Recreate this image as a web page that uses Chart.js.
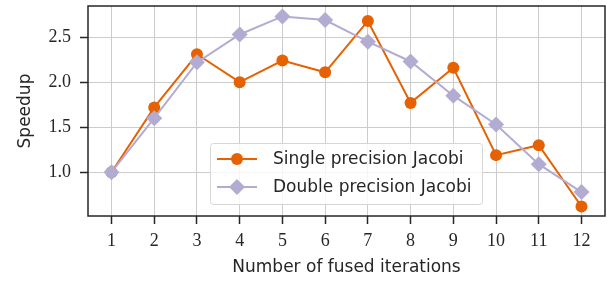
<!DOCTYPE html>
<html>
<head>
<meta charset="utf-8">
<script src="https://cdn.jsdelivr.net/npm/chart.js@4"></script>
<style>
  html, body { margin: 0; padding: 0; background: #fff; }
  #wrap { width: 607px; height: 282px; }
</style>
</head>
<body>
<div id="wrap"><canvas id="speedupChart" width="607" height="282"></canvas></div>
<script>
// fused iteration counts and measured speedups
const iterations = [1, 2, 3, 4, 5, 6, 7, 8, 9, 10, 11, 12];
const singleSpeedup = [1.00, 1.72, 2.31, 2.00, 2.24, 2.11, 2.68, 1.77, 2.16, 1.19, 1.30, 0.62];
const doubleSpeedup = [1.00, 1.60, 2.22, 2.53, 2.73, 2.69, 2.45, 2.23, 1.85, 1.53, 1.09, 0.78];
const yTickValues = [1.0, 1.5, 2.0, 2.5];

const orange = '#e66101';
const purple = '#b2abd2';
const frameColor = '#262626';
const gridColor = '#cccccc';
const serif = "'Liberation Serif', 'DejaVu Serif', serif";
const sans = "'DejaVu Sans', sans-serif";

function toPoints(values) {
    return iterations.map((x, i) => ({ x: x, y: values[i] }));
}

// box round the plot
const framePlugin = {
    id: 'frame',
    afterDraw(chart) {
        const a = chart.chartArea;
        const ctx = chart.ctx;
        ctx.save();
        ctx.strokeStyle = frameColor;
        ctx.lineWidth = 1.5;
        ctx.strokeRect(a.left, a.top, a.right - a.left, a.bottom - a.top);
        ctx.restore();
    }
};

// legend drawn inside the plot, lower middle
const insideLegend = {
    id: 'insideLegend',
    afterDatasetsDraw(chart) {
        const ctx = chart.ctx;
        const bx = 210, by = 143, bw = 272, bh = 61;
        ctx.save();
        ctx.beginPath();
        ctx.roundRect(bx + 0.5, by + 0.5, bw, bh, 3);
        ctx.fillStyle = 'rgba(255,255,255,0.8)';
        ctx.fill();
        ctx.strokeStyle = '#d6d6d6';
        ctx.lineWidth = 1;
        ctx.stroke();
        chart.data.datasets.forEach((ds, i) => {
            const y = 159 + i * 28;
            ctx.strokeStyle = ds.borderColor;
            ctx.lineWidth = 2;
            ctx.beginPath();
            ctx.moveTo(217, y);
            ctx.lineTo(257, y);
            ctx.stroke();
            ctx.fillStyle = ds.backgroundColor;
            ctx.beginPath();
            if (ds.pointStyle === 'rectRot') {
                const r = ds.pointRadius;
                ctx.moveTo(237, y - r);
                ctx.lineTo(237 + r, y);
                ctx.lineTo(237, y + r);
                ctx.lineTo(237 - r, y);
                ctx.closePath();
            } else {
                ctx.arc(237, y, ds.pointRadius, 0, Math.PI * 2);
            }
            ctx.fill();
            ctx.fillStyle = '#262626';
            ctx.font = '17px ' + sans;
            ctx.textBaseline = 'middle';
            ctx.fillText(ds.label, 273, y + 1);
        });
        ctx.restore();
    }
};

const ctx = document.getElementById('speedupChart').getContext('2d');
new Chart(ctx, {
    type: 'line',
    data: {
        datasets: [
            {
                label: 'Single precision Jacobi',
                data: toPoints(singleSpeedup),
                borderColor: orange,
                backgroundColor: orange,
                borderWidth: 2,
                pointStyle: 'circle',
                pointRadius: 6,
                pointBorderWidth: 0,
                order: 2
            },
            {
                label: 'Double precision Jacobi',
                data: toPoints(doubleSpeedup),
                borderColor: purple,
                backgroundColor: purple,
                borderWidth: 2,
                pointStyle: 'rectRot',
                pointRadius: 8,
                pointBorderWidth: 0,
                order: 1
            }
        ]
    },
    options: {
        responsive: false,
        animation: false,
        layout: { autoPadding: false, padding: { left: 0, top: 6, right: 2, bottom: 0 } },
        plugins: {
            legend: { display: false },
            tooltip: { enabled: false }
        },
        scales: {
            x: {
                type: 'linear',
                min: 0.45,
                max: 12.55,
                afterBuildTicks: s => { s.ticks = iterations.map(v => ({ value: v })); },
                afterFit: s => { s.height = 66; s.paddingLeft = 0; s.paddingRight = 0; },
                border: { display: false },
                grid: { color: gridColor, lineWidth: 1, tickColor: frameColor, tickLength: 8, tickWidth: 1.5 },
                ticks: {
                    autoSkip: false,
                    maxRotation: 0,
                    padding: 6,
                    color: '#262626',
                    font: { family: serif, size: 18 },
                    callback: v => String(v)
                },
                title: {
                    display: true,
                    text: 'Number of fused iterations',
                    color: '#262626',
                    font: { family: sans, size: 17 },
                    padding: { top: 0, bottom: 4 }
                }
            },
            y: {
                type: 'linear',
                min: 0.514,
                max: 2.846,
                afterBuildTicks: s => { s.ticks = yTickValues.map(v => ({ value: v })); },
                afterFit: s => { s.width = 88; s.paddingTop = 0; s.paddingBottom = 0; },
                border: { display: false },
                grid: { color: gridColor, lineWidth: 1, tickColor: frameColor, tickLength: 8, tickWidth: 1.5 },
                ticks: {
                    padding: 9,
                    color: '#262626',
                    font: { family: serif, size: 18 },
                    callback: v => v.toFixed(1)
                },
                title: {
                    display: true,
                    text: 'Speedup',
                    color: '#262626',
                    font: { family: sans, size: 17 },
                    padding: { top: 15, bottom: 0 }
                }
            }
        }
    },
    plugins: [framePlugin, insideLegend]
});
</script>
</body>
</html>
